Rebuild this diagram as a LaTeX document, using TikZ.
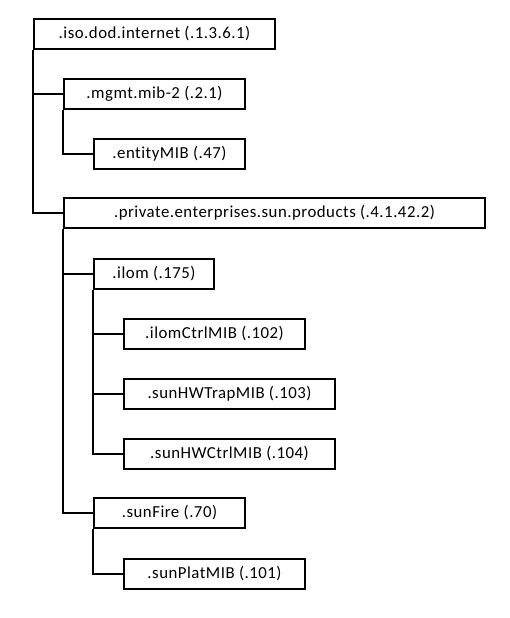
\documentclass[tikz,border=0pt]{standalone}
\usepackage{fontspec}
\setmainfont{Carlito}[Ligatures=NoCommon, LetterSpace=3]
\begin{document}
\begin{tikzpicture}[x=1pt,y=-1pt,
  box/.style={draw=black, line width=2pt, minimum height=30pt, inner sep=0pt, font=\fontsize{16.8}{20}\selectfont},
  conn/.style={draw=black, line width=2pt}]
\useasboundingbox (0,0) rectangle (510,618);
\node[box, minimum width=241pt] (n1) at (154.5,34) {.iso.dod.internet (.1.3.6.1)};
\node[box, minimum width=181pt] (n2) at (154.5,93.5) {.mgmt.mib-2 (.2.1)};
\node[box, minimum width=151pt] (n3) at (169.5,153.5) {.entityMIB (.47)};
\node[box, minimum width=421pt] (n4) at (274.5,213) {.private.enterprises.sun.products (.4.1.42.2)};
\node[box, minimum width=120pt] (n5) at (154,274) {.ilom (.175)};
\node[box, minimum width=181pt] (n6) at (214.5,334) {.ilomCtrlMIB (.102)};
\node[box, minimum width=211pt] (n7) at (229.5,394) {.sunHWTrapMIB (.103)};
\node[box, minimum width=211pt] (n8) at (229.5,453.5) {.sunHWCtrlMIB (.104)};
\node[box, minimum width=151pt] (n9) at (169.5,513) {.sunFire (.70)};
\node[box, minimum width=181pt] (n10) at (214.5,573.5) {.sunPlatMIB (.101)};
\draw[conn] (n1.south west) |- (n2.west);
\draw[conn] (n1.south west) |- (n4.west);
\draw[conn] (n2.south west) |- (n3.west);
\draw[conn] (n4.south west) |- (n5.west);
\draw[conn] (n4.south west) |- (n9.west);
\draw[conn] (n5.south west) |- (n6.west);
\draw[conn] (n5.south west) |- (n7.west);
\draw[conn] (n5.south west) |- (n8.west);
\draw[conn] (n9.south west) |- (n10.west);
\end{tikzpicture}
\end{document}
